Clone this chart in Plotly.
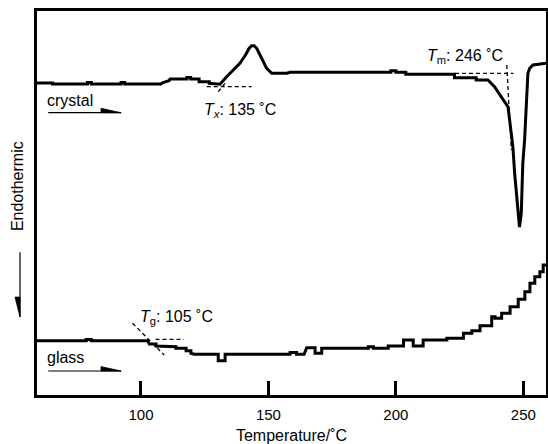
import plotly.graph_objects as go

# ---- data (temperature in degC, signal in arbitrary units) ----
crystal_temp = [59.2, 65.3, 65.3, 79.0, 79.0, 80.5, 80.5, 92.2, 92.2, 93.6, 93.6, 107.8, 108.6, 111.0,
                111.4, 118.0, 118.0, 119.5, 119.5, 122.8, 122.8, 126.8, 126.8, 131.0, 133.6, 136.2,
                138.8, 141.0, 142.4, 143.4, 144.4, 145.4, 147.4, 149.3, 151.3, 157.2, 158.5, 198.0,
                198.0, 200.0, 200.0, 203.9, 203.9, 223.0, 223.0, 231.5, 231.5, 236.1, 238.7, 240.7,
                242.6, 244.0, 244.6, 245.3, 245.9, 246.6, 247.9, 248.5, 249.2, 249.8, 250.5, 251.2,
                251.8, 252.5, 253.8, 258.9]
crystal_signal = [312.0, 312.0, 311.0, 311.0, 312.5, 312.5, 311.0, 311.0, 312.5, 312.5, 311.0, 311.0,
                  312.5, 314.3, 316.0, 316.0, 317.5, 317.5, 316.0, 316.0, 313.3, 313.3, 311.7, 310.7,
                  318.3, 325.0, 331.7, 340.0, 346.5, 349.3, 349.3, 346.7, 336.7, 326.7, 321.7, 321.7,
                  322.7, 322.7, 324.3, 324.3, 322.7, 322.7, 320.7, 320.7, 317.3, 317.3, 315.0, 315.0,
                  308.3, 300.0, 293.3, 288.3, 275.0, 265.0, 248.3, 221.7, 181.7, 168.0, 181.7, 231.7,
                  255.0, 295.0, 321.7, 326.7, 330.0, 331.7]

glass_temp = [59.2, 78.5, 78.5, 80.5, 80.5, 102.6, 103.3, 105.9, 105.9, 108.5, 108.5, 113.7, 113.7,
              117.7, 117.7, 119.6, 119.6, 120.9, 130.3, 130.3, 133.0, 133.0, 158.5, 158.5, 161.0,
              161.0, 164.0, 165.0, 168.3, 168.3, 170.9, 170.9, 189.2, 189.2, 191.2, 191.2, 197.0,
              197.0, 203.0, 203.0, 206.8, 206.8, 210.7, 210.7, 220.0, 220.0, 226.5, 226.5, 229.8,
              229.8, 233.0, 233.0, 237.6, 237.6, 238.9, 238.9, 241.5, 241.5, 244.8, 244.8, 248.0,
              248.0, 250.6, 250.6, 252.6, 252.6, 254.5, 254.5, 256.5, 256.5, 257.8, 257.8, 258.9]
glass_signal = [54.3, 54.3, 55.5, 55.5, 54.3, 54.3, 51.0, 51.0, 49.0, 49.0, 48.3, 48.3, 46.7,
                46.7, 44.3, 44.3, 41.7, 40.7, 40.7, 34.3, 34.3, 40.7, 40.7, 42.5, 42.5,
                40.7, 40.7, 47.3, 47.3, 41.7, 41.7, 46.7, 46.7, 48.3, 48.3, 46.7, 46.7,
                49.0, 49.0, 55.0, 55.0, 49.0, 49.0, 55.0, 55.0, 56.7, 56.7, 61.7, 61.7,
                64.3, 64.3, 69.3, 69.3, 78.3, 78.3, 76.7, 76.7, 81.7, 81.7, 88.3, 88.3,
                95.7, 95.7, 103.3, 103.3, 111.7, 111.7, 118.3, 118.3, 123.3, 123.3, 130.0, 130.0]

# construction (tangent) lines
tx_base_temp, tx_base_signal = [125.8, 143.4], [308.3, 308.3]
tx_tan_temp, tx_tan_signal = [130.3, 133.0], [303.3, 311.7]
tm_base_temp, tm_base_signal = [223.2, 246.1], [321.7, 321.7]
tm_tan_temp, tm_tan_signal = [243.5, 245.3], [330.0, 245.0]
tg_base_temp, tg_base_signal = [105.7, 116.9], [55.7, 55.7]
tg_tan_temp, tg_tan_signal = [96.7, 109.1], [71.7, 40.0]

x_ticks = [100, 150, 200, 250]
x_range = [59.2, 258.9]
y_range = [0, 384]

FONT = "Liberation Sans, Arial, Helvetica, sans-serif"

fig = go.Figure()
line_style = dict(color="black", width=3)
fig.add_trace(go.Scatter(x=crystal_temp, y=crystal_signal, mode="lines", line=line_style,
                         name="crystal", showlegend=False, hoverinfo="skip"))
fig.add_trace(go.Scatter(x=glass_temp, y=glass_signal, mode="lines", line=line_style,
                         name="glass", showlegend=False, hoverinfo="skip"))

dash_style = dict(color="black", width=1.3, dash="4px,3px")
for tx, ty in [(tx_base_temp, tx_base_signal), (tx_tan_temp, tx_tan_signal),
               (tm_base_temp, tm_base_signal), (tm_tan_temp, tm_tan_signal),
               (tg_base_temp, tg_base_signal), (tg_tan_temp, tg_tan_signal)]:
    fig.add_trace(go.Scatter(x=tx, y=ty, mode="lines", line=dash_style,
                             showlegend=False, hoverinfo="skip"))

# direction arrows under the sample labels (half-headed)
shapes = []
for yy in [282.3, 24.0]:
    shapes.append(dict(type="line", xref="x", yref="y", x0=63.6, x1=92.2, y0=yy, y1=yy,
                       line=dict(color="black", width=1.2)))
    shapes.append(dict(type="path", xref="x", yref="y",
                       path=f"M 84.3,{yy + 4.4} L 92.2,{yy} L 84.3,{yy} Z",
                       fillcolor="black", line=dict(color="black", width=0.8)))
# Endothermic arrow (paper coordinates, outside plot)
shapes.append(dict(type="line", xref="paper", yref="paper", x0=-0.0334, x1=-0.0334,
                   y0=0.372, y1=0.203, line=dict(color="black", width=1.2)))
shapes.append(dict(type="path", xref="paper", yref="paper",
                   path="M -0.0432,0.255 L -0.0334,0.203 L -0.0334,0.255 Z",
                   fillcolor="black", line=dict(color="black", width=0.8)))

ann_font = dict(family=FONT, size=16, color="black")
annotations = [
    dict(x=124.0, y=285.0, xref="x", yref="y", text="<i>T</i><sub><i>x</i></sub>: 135 ˚C",
         showarrow=False, xanchor="left", yanchor="middle", font=ann_font),
    dict(x=211.4, y=339.0, xref="x", yref="y", text="<i>T</i><sub>m</sub>: 246 ˚C",
         showarrow=False, xanchor="left", yanchor="middle", font=ann_font),
    dict(x=98.8, y=78.0, xref="x", yref="y", text="<i>T</i><sub>g</sub>: 105 ˚C",
         showarrow=False, xanchor="left", yanchor="middle", font=ann_font),
    dict(x=62.5, y=295.0, xref="x", yref="y", text="crystal",
         showarrow=False, xanchor="left", yanchor="middle", font=ann_font),
    dict(x=62.5, y=37.5, xref="x", yref="y", text="glass",
         showarrow=False, xanchor="left", yanchor="middle", font=ann_font),
    dict(x=-0.0393, y=0.544, xref="paper", yref="paper", text="Endothermic", textangle=-90,
         showarrow=False, xanchor="center", yanchor="middle", font=ann_font),
]

fig.update_layout(
    width=548, height=444,
    margin=dict(l=37, r=2, t=11, b=49),
    paper_bgcolor="white", plot_bgcolor="white",
    shapes=shapes, annotations=annotations,
    font=dict(family=FONT, color="black"),
    xaxis=dict(range=x_range, tickvals=x_ticks, ticktext=[str(t) for t in x_ticks],
               ticks="inside", ticklen=14, tickwidth=2.5, tickcolor="black",
               showline=True, linewidth=3, linecolor="black", mirror=True,
               showgrid=False, zeroline=False, ticklabelstandoff=4, automargin=False,
               tickfont=dict(family=FONT, size=15, color="black"),
               title=dict(text="Temperature/˚C", font=dict(family=FONT, size=16, color="black"),
                          standoff=11)),
    yaxis=dict(range=y_range, showticklabels=False, ticks="", automargin=False,
               showline=True, linewidth=3, linecolor="black", mirror=True,
               showgrid=False, zeroline=False),
)

fig.write_html("out.html")
